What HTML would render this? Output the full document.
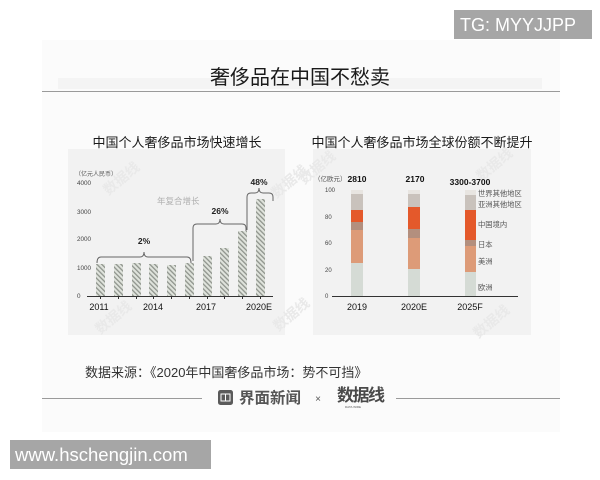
<!DOCTYPE html>
<html>
<head>
<meta charset="utf-8">
<style>
html,body{margin:0;padding:0;background:#fff;}
svg{display:block;}
text{font-family:"Liberation Sans","Noto Sans CJK SC",sans-serif;}
</style>
</head>
<body>
<svg width="600" height="480" viewBox="0 0 600 480" xmlns="http://www.w3.org/2000/svg">
  <defs>
    <pattern id="h" width="3.4" height="3.4" patternUnits="userSpaceOnUse" patternTransform="rotate(-45)">
      <rect x="0" y="0" width="3.4" height="3.4" fill="#dfe3dc"/>
      <rect x="0" y="0" width="1.3" height="3.4" fill="#8f948d"/>
    </pattern>
  </defs>

  <!-- faint page background -->
  <rect x="42" y="40" width="518" height="392" fill="#fbfbfb"/>
  <rect x="58" y="78" width="484" height="11" fill="#f4f4f4"/>

  <!-- TG watermark -->
  <rect x="454" y="10" width="138" height="29" fill="#a6a6a6"/>
  <text x="460" y="31" font-size="18" fill="#fff">TG: MYYJJPP</text>

  <!-- main title -->
  <text x="300" y="84" font-size="20" fill="#1a1a1a" text-anchor="middle">奢侈品在中国不愁卖</text>
  <line x1="42" y1="91.5" x2="560" y2="91.5" stroke="#9a9a9a" stroke-width="1"/>

  <!-- chart titles -->
  <text x="177" y="147" font-size="13" fill="#1a1a1a" text-anchor="middle">中国个人奢侈品市场快速增长</text>
  <text x="422" y="147" font-size="13" fill="#1a1a1a" text-anchor="middle">中国个人奢侈品市场全球份额不断提升</text>

  <!-- panels -->
  <rect x="68" y="149" width="217" height="186" fill="#f2f2f2"/>
  <rect x="313" y="149" width="218" height="186" fill="#f2f2f2"/>

  <!-- faint stamps -->
  <g font-size="14" font-weight="bold" fill="#e9e9e9">
    <text x="102" y="190" transform="rotate(-40 113 184)">数据线</text>
    <text x="270" y="193" transform="rotate(-40 281 187)">数据线</text>
    <text x="94" y="329" transform="rotate(-40 105 323)">数据线</text>
    <text x="272" y="326" transform="rotate(-40 283 320)">数据线</text>
    <text x="298" y="179" transform="rotate(-40 309 173)">数据线</text>
    <text x="475" y="176" transform="rotate(-40 486 170)">数据线</text>
    <text x="472" y="333" transform="rotate(-40 483 327)">数据线</text>
  </g>

  <!-- LEFT CHART -->
  <text x="75" y="176" font-size="6" fill="#555">（亿元人民币）</text>
  <g font-size="6.3" fill="#444">
    <text x="77" y="185">4000</text>
    <text x="77" y="214">3000</text>
    <text x="77" y="241">2000</text>
    <text x="77" y="270">1000</text>
    <text x="77" y="298">0</text>
  </g>
  <text x="157" y="204" font-size="8.5" fill="#b0b0b0">年复合增长</text>

  <!-- bars -->
  <g fill="url(#h)">
    <rect x="96" y="264" width="9" height="32"/>
    <rect x="114" y="264" width="9" height="32"/>
    <rect x="132" y="263" width="9" height="33"/>
    <rect x="149" y="264" width="9" height="32"/>
    <rect x="167" y="265" width="9" height="31"/>
    <rect x="185" y="263" width="9" height="33"/>
    <rect x="203" y="256" width="9" height="40"/>
    <rect x="220" y="248" width="9" height="48"/>
    <rect x="238" y="231" width="9" height="65"/>
    <rect x="256" y="199" width="9" height="97"/>
  </g>
  <line x1="87" y1="296.5" x2="273" y2="296.5" stroke="#333" stroke-width="1"/>
  <g stroke="#333" stroke-width="1">
    <line x1="100.5" y1="296" x2="100.5" y2="299"/>
    <line x1="118.5" y1="296" x2="118.5" y2="299"/>
    <line x1="136.5" y1="296" x2="136.5" y2="299"/>
    <line x1="153.5" y1="296" x2="153.5" y2="299"/>
    <line x1="171.5" y1="296" x2="171.5" y2="299"/>
    <line x1="189.5" y1="296" x2="189.5" y2="299"/>
    <line x1="207.5" y1="296" x2="207.5" y2="299"/>
    <line x1="224.5" y1="296" x2="224.5" y2="299"/>
    <line x1="242.5" y1="296" x2="242.5" y2="299"/>
    <line x1="260.5" y1="296" x2="260.5" y2="299"/>
  </g>
  <g font-size="9" fill="#111" text-anchor="middle">
    <text x="99" y="310">2011</text>
    <text x="153" y="310">2014</text>
    <text x="206" y="310">2017</text>
    <text x="259" y="310">2020E</text>
  </g>

  <!-- braces -->
  <g fill="none" stroke="#666" stroke-width="1">
    <path d="M97,263 Q97,257 101,257 L140,257 Q144,257 144,252 Q144,257 148,257 L187,257 Q191,257 191,263"/>
    <path d="M193,261 L193,228 Q193,224 197,224 L216,224 Q220,224 220,219 Q220,224 224,224 L242,224 Q246,224 246,228 L246,231"/>
    <path d="M247,230 L247,197 Q247,193 251,193 L255,193 Q259,193 259,188 Q259,193 263,193 L269,193 Q273,193 273,197 L273,201"/>
  </g>
  <g font-size="8.5" font-weight="bold" fill="#222" text-anchor="middle">
    <text x="144" y="244">2%</text>
    <text x="220" y="214">26%</text>
    <text x="259" y="185">48%</text>
  </g>

  <!-- RIGHT CHART -->
  <text x="314" y="181" font-size="6.5" fill="#555">（亿欧元）</text>
  <g font-size="8.5" font-weight="bold" fill="#111" text-anchor="middle">
    <text x="357" y="182">2810</text>
    <text x="415" y="182">2170</text>
    <text x="470" y="185">3300-3700</text>
  </g>
  <g font-size="6" fill="#444">
    <text x="325" y="192">100</text>
    <text x="325" y="219">80</text>
    <text x="325" y="245">60</text>
    <text x="325" y="272">20</text>
    <text x="325" y="298">0</text>
  </g>

  <!-- stacked bars -->
  <g>
    <rect x="351" y="190" width="12" height="4" fill="#e8e5e1"/>
    <rect x="351" y="194" width="12" height="16" fill="#c9c2bc"/>
    <rect x="351" y="210" width="12" height="12" fill="#e4592b"/>
    <rect x="351" y="222" width="12" height="8" fill="#b38f7e"/>
    <rect x="351" y="230" width="12" height="33" fill="#dd9b78"/>
    <rect x="351" y="263" width="12" height="33" fill="#d5dbd5"/>

    <rect x="408" y="190" width="12" height="4" fill="#e8e5e1"/>
    <rect x="408" y="194" width="12" height="13" fill="#c9c2bc"/>
    <rect x="408" y="207" width="12" height="22" fill="#e4592b"/>
    <rect x="408" y="229" width="12" height="9" fill="#b38f7e"/>
    <rect x="408" y="238" width="12" height="31" fill="#dd9b78"/>
    <rect x="408" y="269" width="12" height="27" fill="#d5dbd5"/>

    <rect x="465" y="190" width="11" height="5" fill="#e8e5e1"/>
    <rect x="465" y="195" width="11" height="15" fill="#c9c2bc"/>
    <rect x="465" y="210" width="11" height="30" fill="#e4592b"/>
    <rect x="465" y="240" width="11" height="6" fill="#b38f7e"/>
    <rect x="465" y="246" width="11" height="26" fill="#dd9b78"/>
    <rect x="465" y="272" width="11" height="24" fill="#d5dbd5"/>
  </g>
  <line x1="332" y1="296.5" x2="518" y2="296.5" stroke="#333" stroke-width="1"/>
  <g font-size="7.3" fill="#555">
    <text x="478" y="196">世界其他地区</text>
    <text x="478" y="207">亚洲其他地区</text>
    <text x="478" y="227">中国境内</text>
    <text x="478" y="247">日本</text>
    <text x="478" y="264">美洲</text>
    <text x="478" y="290">欧洲</text>
  </g>
  <g font-size="9" fill="#111" text-anchor="middle">
    <text x="357" y="310">2019</text>
    <text x="414" y="310">2020E</text>
    <text x="470" y="310">2025F</text>
  </g>

  <!-- source -->
  <text x="85" y="377" font-size="13" fill="#333">数据来源：《2020年中国奢侈品市场：势不可挡》</text>

  <!-- bottom logos -->
  <line x1="42" y1="398.5" x2="202" y2="398.5" stroke="#9a9a9a" stroke-width="1"/>
  <line x1="396" y1="398.5" x2="560" y2="398.5" stroke="#9a9a9a" stroke-width="1"/>
  <rect x="218" y="390" width="15" height="15" rx="2.5" fill="#5a5a5a"/>
  <rect x="221" y="394" width="9" height="7" fill="none" stroke="#fff" stroke-width="1"/>
  <line x1="225.5" y1="394" x2="225.5" y2="401" stroke="#fff" stroke-width="1"/>
  <text x="239" y="403" font-size="15.5" font-weight="bold" fill="#555">界面新闻</text>
  <text x="318" y="402" font-size="10" fill="#555" text-anchor="middle">×</text>
  <text x="337" y="401" font-size="17" font-weight="bold" fill="#4a4a4a" letter-spacing="-1.5">数据线</text>
  <text x="345" y="408" font-size="3" fill="#555">DATA WIRE</text>

  <!-- bottom watermark -->
  <rect x="10" y="440" width="201" height="29" fill="#a6a6a6"/>
  <text x="15" y="461" font-size="18.5" fill="#fff">www.hschengjin.com</text>
</svg>
</body>
</html>
